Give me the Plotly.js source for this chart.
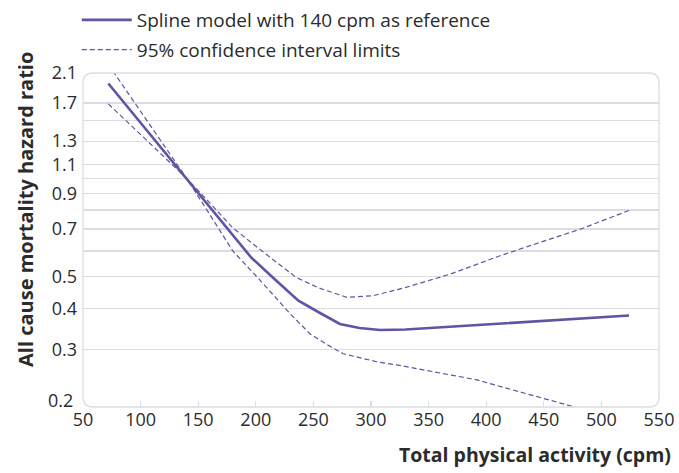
<!DOCTYPE html>
<html>
<head>
<meta charset="utf-8">
<script src="https://cdn.plot.ly/plotly-3.0.1.min.js"></script>
<style>html,body{margin:0;padding:0;background:#fff;}#chart{width:679px;height:473px;}</style>
</head>
<body>
<div id="chart"></div>
<script>
// Total physical activity (cpm)
const xMain = [72, 100, 140, 170, 196, 215, 237, 255, 273, 290, 308, 330, 369, 420, 470, 524];
const hrMain = [1.95, 1.48, 1.0, 0.745, 0.573, 0.497, 0.423, 0.389, 0.359, 0.349, 0.344, 0.345, 0.352, 0.362, 0.371, 0.381];

const xUpper = [72, 100, 140, 160, 180, 209, 235, 255, 279, 302, 331, 369, 412, 450, 481, 524];
const hrUpper = [2.23, 1.60, 1.0, 0.842, 0.706, 0.586, 0.498, 0.462, 0.433, 0.438, 0.465, 0.51, 0.58, 0.643, 0.698, 0.798];

const xLower = [72, 100, 140, 160, 180, 204, 230, 247, 262, 276, 305, 325, 369, 392, 430, 477, 524];
const hrLower = [1.69, 1.36, 1.0, 0.776, 0.60, 0.487, 0.385, 0.335, 0.31, 0.291, 0.275, 0.268, 0.250, 0.242, 0.222, 0.2, 0.18];

const yTickVals = [0.2, 0.3, 0.4, 0.5, 0.6, 0.7, 0.8, 0.9, 1.0, 1.1, 1.3, 1.5, 1.7, 2.1];
const yTickText = ['', '0.3', '0.4', '0.5', '', '0.7', '', '0.9', '', '1.1', '1.3', '', '1.7', '2.1'];
const yBottomLabel = '0.2';
const xTickVals = [50, 100, 150, 200, 250, 300, 350, 400, 450, 500, 550];

const legendNames = ['Spline model with 140 cpm as reference', '95% confidence interval limits'];
const yTitle = 'All cause mortality hazard ratio';
const xTitle = 'Total physical activity (cpm)';

const purple = '#6452a3';
const grid = '#dadde4';
const font = 'Open Sans, sans-serif';
const txt = '#2b2b2b';

const traces = [
  {x: xMain, y: hrMain, type: 'scatter', mode: 'lines', name: legendNames[0],
   line: {color: purple, width: 2.6}, legendgroup: 'main'},
  {x: xUpper, y: hrUpper, type: 'scatter', mode: 'lines', name: legendNames[1],
   line: {color: purple, width: 1.2, dash: '5px,3px'}, legendgroup: 'ci'},
  {x: xLower, y: hrLower, type: 'scatter', mode: 'lines', name: legendNames[1],
   line: {color: purple, width: 1.2, dash: '5px,3px'}, legendgroup: 'ci', showlegend: false}
];

const W = 679, H = 473, mL = 83, mR = 20, mT = 73, mB = 66;
const pw = W - mL - mR, ph = H - mT - mB;
const r = 10, rx = r / pw, ry = r / ph, ex = 3 / pw, ey = 3 / ph;

function cornerPatches() {
  return [
    `M${-ex},${1+ey} L${rx},${1+ey} L${rx},1 Q0,1 0,${1-ry} L${-ex},${1-ry} Z`,
    `M${1+ex},${1+ey} L${1-rx},${1+ey} L${1-rx},1 Q1,1 1,${1-ry} L${1+ex},${1-ry} Z`,
    `M${-ex},${-ey} L${rx},${-ey} L${rx},0 Q0,0 0,${ry} L${-ex},${ry} Z`,
    `M${1+ex},${-ey} L${1-rx},${-ey} L${1-rx},0 Q1,0 1,${ry} L${1+ex},${ry} Z`
  ].map(p => ({type: 'path', xref: 'paper', yref: 'paper', path: p, fillcolor: '#ffffff',
               line: {width: 0}, layer: 'above'}));
}
const border = {type: 'path', xref: 'paper', yref: 'paper', layer: 'above',
  path: `M${rx},0 L${1-rx},0 Q1,0 1,${ry} L1,${1-ry} Q1,1 ${1-rx},1 L${rx},1 Q0,1 0,${1-ry} L0,${ry} Q0,0 ${rx},0 Z`,
  line: {color: grid, width: 1.3}, fillcolor: 'rgba(0,0,0,0)'};

const layout = {
  width: W, height: H,
  margin: {l: mL, r: mR, t: mT, b: mB, autoexpand: false},
  paper_bgcolor: '#ffffff', plot_bgcolor: '#ffffff',
  font: {family: font, size: 18, color: txt},
  showlegend: true,
  legend: {x: -0.0108, y: 1 + 72 / ph, xanchor: 'left', yanchor: 'top', orientation: 'v',
           font: {family: font, size: 19, color: txt}, bgcolor: 'rgba(0,0,0,0)',
           traceorder: 'grouped', tracegroupgap: 2, itemwidth: 50},
  xaxis: {range: [50, 550], tickvals: xTickVals, showgrid: false, zeroline: false,
          ticks: 'inside', ticklen: 6, tickcolor: grid, tickwidth: 1.2, showline: false,
          tickfont: {family: font, size: 18, color: txt}},
  yaxis: {type: 'log', range: [Math.log10(0.2), Math.log10(2.1)], tickvals: yTickVals, ticktext: yTickText,
          showgrid: true, gridcolor: grid, gridwidth: 1.2, zeroline: false, ticks: '', showline: false,
          ticklabelstandoff: 5,
          tickfont: {family: font, size: 18, color: txt}},
  shapes: cornerPatches().concat([border]),
  annotations: [
    {xref: 'paper', yref: 'paper', x: 1, y: 0, xanchor: 'right', yanchor: 'top',
     xshift: 14, yshift: -32, showarrow: false, text: '<b>' + xTitle + '</b>',
     font: {family: font, size: 19.5, color: txt}},
    {xref: 'paper', yref: 'paper', x: (25 - mL) / pw, y: (H - mB - 210) / ph, xanchor: 'center', yanchor: 'middle',
     textangle: -90, showarrow: false, text: '<b>' + yTitle + '</b>',
     font: {family: font, size: 20, color: txt}},
    {xref: 'paper', yref: 'y', x: 0, y: Math.log10(0.2), xanchor: 'right', yanchor: 'middle',
     xshift: -8, yshift: 7, showarrow: false, text: yBottomLabel,
     font: {family: font, size: 18, color: txt}}
  ]
};

Plotly.newPlot('chart', traces, layout, {displayModeBar: false, staticPlot: true});
</script>
</body>
</html>
